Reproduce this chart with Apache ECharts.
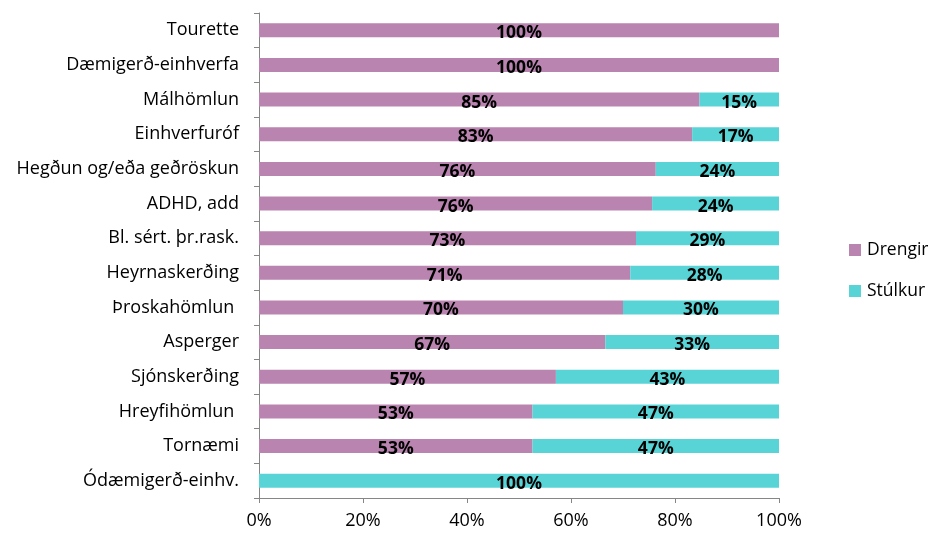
<!DOCTYPE html>
<html>
<head>
<meta charset="utf-8">
<script src="https://cdn.jsdelivr.net/npm/echarts@6/dist/echarts.min.js"></script>
<style>
html, body { margin: 0; padding: 0; background: #fff; }
#chart { width: 928px; height: 537px; }
</style>
</head>
<body>
<div id="chart"></div>
<script>
var categories = ['Tourette', 'Dæmigerð-einhverfa', 'Málhömlun', 'Einhverfuróf', 'Hegðun og/eða geðröskun',
    'ADHD, add', 'Bl. sért. þr.rask.', 'Heyrnaskerðing', 'Þroskahömlun ', 'Asperger', 'Sjónskerðing',
    'Hreyfihömlun ', 'Tornæmi', 'Ódæmigerð-einhv.'];
// bar lengths (share, %)
var drengir = [100, 100, 84.7, 83.3, 76.3, 75.6, 72.5, 71.4, 70, 66.6, 57.1, 52.6, 52.6, 0];
var stulkur = [0, 0, 15.3, 16.7, 23.7, 24.4, 27.5, 28.6, 30, 33.4, 42.9, 47.4, 47.4, 100];
// printed labels
var drengirLabels = [100, 100, 85, 83, 76, 76, 73, 71, 70, 67, 57, 53, 53, null];
var stulkurLabels = [null, null, 15, 17, 24, 24, 29, 28, 30, 33, 43, 47, 47, 100];
var xTicks = [0, 20, 40, 60, 80, 100];

var FONT = 'Open Sans';
var FS = 18;

var chart = echarts.init(document.getElementById('chart'));

var makeLabel = function(labels) {
    return {
        show: true,
        position: 'inside',
        offset: [0, 3],
        color: '#000',
        fontFamily: FONT,
        fontWeight: 'bold',
        fontSize: 17.5,
        formatter: function(p) {
            var v = labels[p.dataIndex];
            return v == null ? '' : v + '%';
        }
    };
};

chart.setOption({
    animation: false,
    color: ['#B984B0', '#58D3D6'],
    grid: { left: 259, right: 149, top: 13, bottom: 39 },
    legend: {
        orient: 'vertical',
        left: 844,
        top: 236,
        itemWidth: 12,
        itemHeight: 12,
        itemGap: 23,
        icon: 'rect',
        textStyle: { fontFamily: FONT, fontSize: 17.5, color: '#000', padding: [0, 0, 0, 1] },
        data: ['Drengir', 'Stúlkur']
    },
    xAxis: {
        type: 'value',
        min: 0,
        max: 100,
        interval: 20,
        axisLine: { show: true, lineStyle: { color: '#868686' } },
        axisTick: { show: true, length: 5, lineStyle: { color: '#868686' } },
        splitLine: { show: false },
        axisLabel: {
            margin: 14,
            fontFamily: FONT,
            fontSize: FS,
            color: '#000',
            formatter: function(v) { return xTicks.indexOf(v) >= 0 ? v + '%' : ''; }
        }
    },
    yAxis: {
        type: 'category',
        inverse: true,
        data: categories,
        axisLine: { show: true, lineStyle: { color: '#868686' } },
        axisTick: { show: true, length: 5, lineStyle: { color: '#868686' } },
        axisLabel: { margin: 20, fontFamily: FONT, fontSize: FS, color: '#000' }
    },
    series: [
        {
            name: 'Drengir',
            type: 'bar',
            stack: 'total',
            barWidth: 14,
            data: drengir,
            label: makeLabel(drengirLabels)
        },
        {
            name: 'Stúlkur',
            type: 'bar',
            stack: 'total',
            barWidth: 14,
            data: stulkur,
            label: makeLabel(stulkurLabels)
        }
    ]
});
</script>
</body>
</html>
